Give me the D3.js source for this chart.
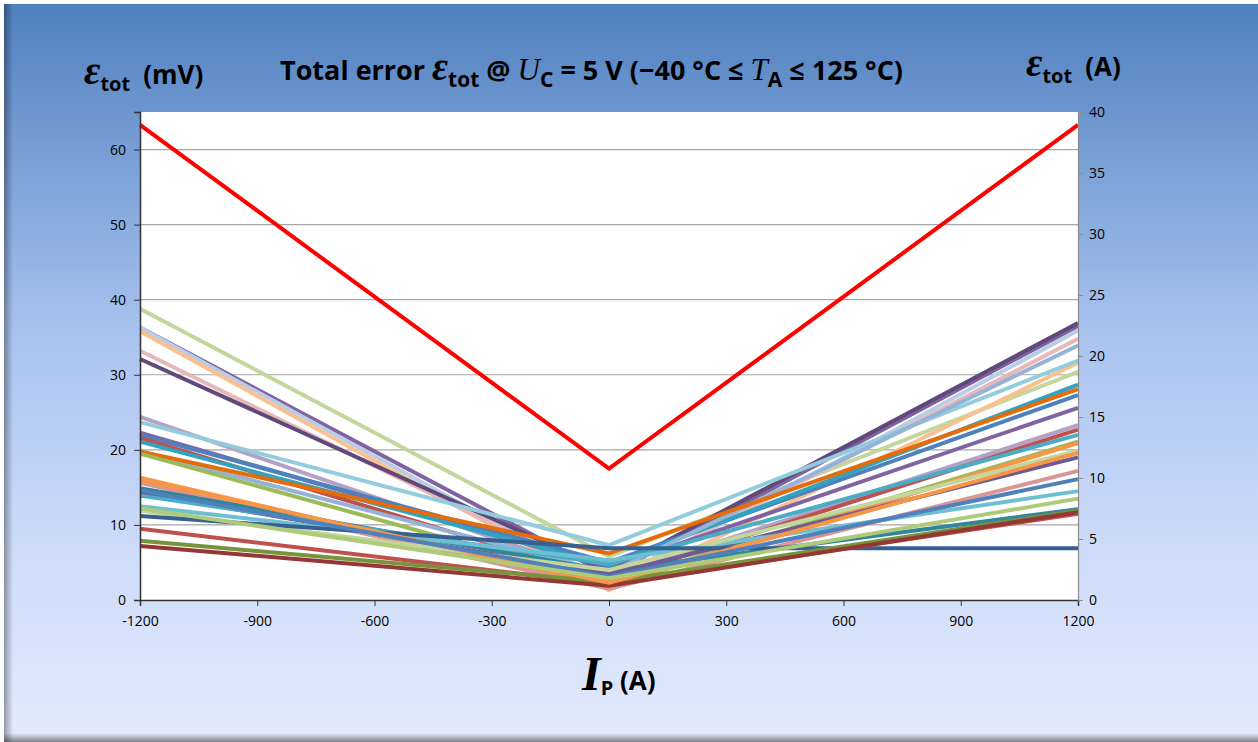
<!DOCTYPE html>
<html>
<head>
<meta charset="utf-8">
<script src="https://cdn.jsdelivr.net/npm/d3@7"></script>
<style>
  body { margin: 0; background: #fff; }
  .tick text { font-family: "Open Sans", sans-serif; font-size: 14px; fill: #000; }
  .lbl { font-family: "Open Sans", sans-serif; font-weight: bold; fill: #000; }
  .serif { font-family: "Liberation Serif", "DejaVu Serif", serif; font-style: italic; }
</style>
</head>
<body>
<div id="chart"></div>
<script>
// x positions of every measured curve
const currents = [-1200, 0, 1200];

// error (mV) at -1200 A, 0 A, +1200 A for each sample curve
const errLeft   = [38.8, 36.3, 36.3, 35.8, 33.2, 32.1, 24.4, 23.7, 22.3, 22.0, 21.6, 21.1, 19.8, 19.8, 19.5, 16.3, 15.6, 14.9, 14.3, 13.9, 12.5, 11.9, 11.2, 9.5, 7.9, 7.2, 16.0, 14.6, 12.2];
const errCenter = [5.8, 3.3, 2.0, 1.3, 2.5, 3.8, 3.0, 7.3, 4.3, 5.0, 2.7, 4.6, 3.6, 6.2, 2.2, 1.8, 1.5, 3.9, 3.4, 4.8, 5.3, 4.0, 6.9, 2.1, 2.4, 1.9, 2.3, 3.1, 2.9];
const errRight  = [30.4, 36.5, 35.9, 31.6, 34.8, 36.9, 23.3, 31.9, 25.6, 27.3, 22.7, 28.7, 33.9, 28.1, 21.1, 20.9, 17.2, 12.1, 19.0, 22.0, 14.5, 19.9, 6.9, 11.5, 11.9, 11.7, 19.6, 16.1, 13.5];
const seriesColors = ["#c3d69b", "#7f63a1", "#b9cde5", "#fac090", "#e6b9b8", "#5f497a", "#b3a2c7", "#93cddd", "#8064a2", "#4f81bd", "#c0504d", "#31a3c0", "#95b3d7", "#e46c0a", "#9bbb59", "#f79646", "#d99694", "#31859c", "#6f5a94", "#4bacc6", "#6fbfd3", "#c3d69b", "#376092", "#c0504d", "#77933c", "#953735", "#f79646", "#4f81bd", "#aecb7a"];

// worst case limit
const limitValues = [63.3, 17.5, 63.3];

const xTicks = [-1200, -900, -600, -300, 0, 300, 600, 900, 1200];
const yLeftTicks = [0, 10, 20, 30, 40, 50, 60];
const yRightTicks = [0, 5, 10, 15, 20, 25, 30, 35, 40];

const W = 1258, H = 742;
const margin = {top: 112, right: 180, bottom: 142, left: 140};

const svg = d3.select("#chart").append("svg")
    .attr("width", W)
    .attr("height", H);

// background frame with gradient
const defs = svg.append("defs");
const grad = defs.append("linearGradient").attr("id", "bg").attr("x1", 0).attr("y1", 0).attr("x2", 0).attr("y2", 1);
grad.append("stop").attr("offset", "0%").attr("stop-color", "#4f80bf");
grad.append("stop").attr("offset", "45%").attr("stop-color", "#a9c3ef");
grad.append("stop").attr("offset", "75%").attr("stop-color", "#cfdcfa");
grad.append("stop").attr("offset", "100%").attr("stop-color", "#e2ebfc");

const shadowL = defs.append("linearGradient").attr("id", "shl").attr("x1", 0).attr("x2", 1).attr("y1", 0).attr("y2", 0);
shadowL.append("stop").attr("offset", "0%").attr("stop-color", "#000").attr("stop-opacity", 0.35);
shadowL.append("stop").attr("offset", "100%").attr("stop-color", "#000").attr("stop-opacity", 0);
const shadowB = defs.append("linearGradient").attr("id", "shb").attr("x1", 0).attr("x2", 0).attr("y1", 1).attr("y2", 0);
shadowB.append("stop").attr("offset", "0%").attr("stop-color", "#000").attr("stop-opacity", 0.45);
shadowB.append("stop").attr("offset", "100%").attr("stop-color", "#000").attr("stop-opacity", 0);

svg.append("rect").attr("x", 4).attr("y", 4).attr("width", W - 4).attr("height", H - 4).attr("fill", "url(#bg)");
svg.append("rect").attr("x", 4).attr("y", 4).attr("width", 9).attr("height", H - 4).attr("fill", "url(#shl)");
svg.append("rect").attr("x", 4).attr("y", H - 9).attr("width", W - 4).attr("height", 9).attr("fill", "url(#shb)");

const innerW = W - margin.left - margin.right;
const innerH = H - margin.top - margin.bottom;

const x = d3.scaleLinear().domain([-1200, 1200]).range([margin.left, margin.left + innerW]);
const yL = d3.scaleLinear().domain([0, 65]).range([margin.top + innerH, margin.top]);
const yR = d3.scaleLinear().domain([0, 40]).range([margin.top + innerH, margin.top]);

// plot area
svg.append("rect")
    .attr("x", x(-1200)).attr("y", yL(65))
    .attr("width", x(1200) - x(-1200)).attr("height", yL(0) - yL(65))
    .attr("fill", "#fff");

// gridlines
svg.append("g").selectAll("line")
    .data(yLeftTicks.filter(d => d > 0))
    .join("line")
    .attr("x1", x(-1200)).attr("x2", x(1200))
    .attr("y1", d => yL(d)).attr("y2", d => yL(d))
    .attr("stroke", "#a6a6a6").attr("stroke-width", 1.2);

// curves
const line = d3.line()
    .x(d => x(d[0]))
    .y(d => yL(d[1]));

const curves = errLeft.map((v, i) => [[currents[0], v], [currents[1], errCenter[i]], [currents[2], errRight[i]]]);

svg.append("g").selectAll("path")
    .data(curves)
    .join("path")
    .attr("d", line)
    .attr("fill", "none")
    .attr("stroke", (d, i) => seriesColors[i])
    .attr("stroke-width", 4)
    .attr("stroke-linejoin", "round");

svg.append("path")
    .datum(currents.map((c, i) => [c, limitValues[i]]))
    .attr("d", line)
    .attr("fill", "none")
    .attr("stroke", "#ff0000")
    .attr("stroke-width", 4);

// axes
const plain = d => d.toString();

const gx = svg.append("g")
    .attr("transform", `translate(0,${yL(0)})`)
    .call(d3.axisBottom(x).tickValues(xTicks).tickFormat(plain).tickSize(6).tickPadding(10));
gx.select(".domain").attr("stroke", "#333").attr("stroke-width", 1.5);
gx.selectAll(".tick line").attr("stroke", "#333");

const gl = svg.append("g")
    .attr("transform", `translate(${x(-1200)},0)`)
    .call(d3.axisLeft(yL).tickValues(yLeftTicks).tickFormat(plain).tickSize(6).tickPadding(8));
gl.select(".domain").attr("stroke", "#333").attr("stroke-width", 1.5);
gl.selectAll(".tick line").attr("stroke", "#333");

const gr = svg.append("g")
    .attr("transform", `translate(${x(1200)},0)`)
    .call(d3.axisRight(yR).tickValues(yRightTicks).tickFormat(plain).tickSize(5).tickPadding(6));
gr.select(".domain").attr("stroke", "#8c8c8c").attr("stroke-width", 1.2);
gr.selectAll(".tick line").attr("stroke", "#8c8c8c");

// labels
function epsLabel(xp, yp, unit) {
    const t = svg.append("text").attr("class", "lbl").attr("x", xp).attr("y", yp).attr("font-size", 26);
    t.append("tspan").attr("class", "serif").attr("font-size", 40).attr("font-weight", "bold").text("ε");
    t.append("tspan").attr("font-size", 20).attr("dy", 7).text("tot");
    t.append("tspan").attr("dy", -7).text("\u2002" + unit);
}
epsLabel(84, 84, "(mV)");
epsLabel(1026, 76, "(A)");

const title = svg.append("text").attr("class", "lbl").attr("x", 280).attr("y", 80).attr("font-size", 27);
title.append("tspan").text("Total error ");
title.append("tspan").attr("class", "serif").attr("font-size", 39).attr("font-weight", "bold").text("ε");
title.append("tspan").attr("font-size", 21).attr("dy", 7).text("tot");
title.append("tspan").attr("dy", -7).text(" @ ");
title.append("tspan").attr("class", "serif").attr("font-size", 31).attr("font-weight", "normal").text("U");
title.append("tspan").attr("font-size", 21).attr("dy", 7).text("C");
title.append("tspan").attr("dy", -7).text(" = 5 V (\u221240 °C \u2264 ");
title.append("tspan").attr("class", "serif").attr("font-size", 31).attr("font-weight", "normal").text("T");
title.append("tspan").attr("font-size", 21).attr("dy", 7).text("A");
title.append("tspan").attr("dy", -7).text(" \u2264 125 °C)");

const xl = svg.append("text").attr("class", "lbl").attr("x", 582).attr("y", 690).attr("font-size", 26);
xl.append("tspan").attr("class", "serif").attr("font-size", 48).text("I");
xl.append("tspan").attr("font-size", 20).attr("dy", 5).text("P");
xl.append("tspan").attr("dy", -5).text(" (A)");
</script>
</body>
</html>
